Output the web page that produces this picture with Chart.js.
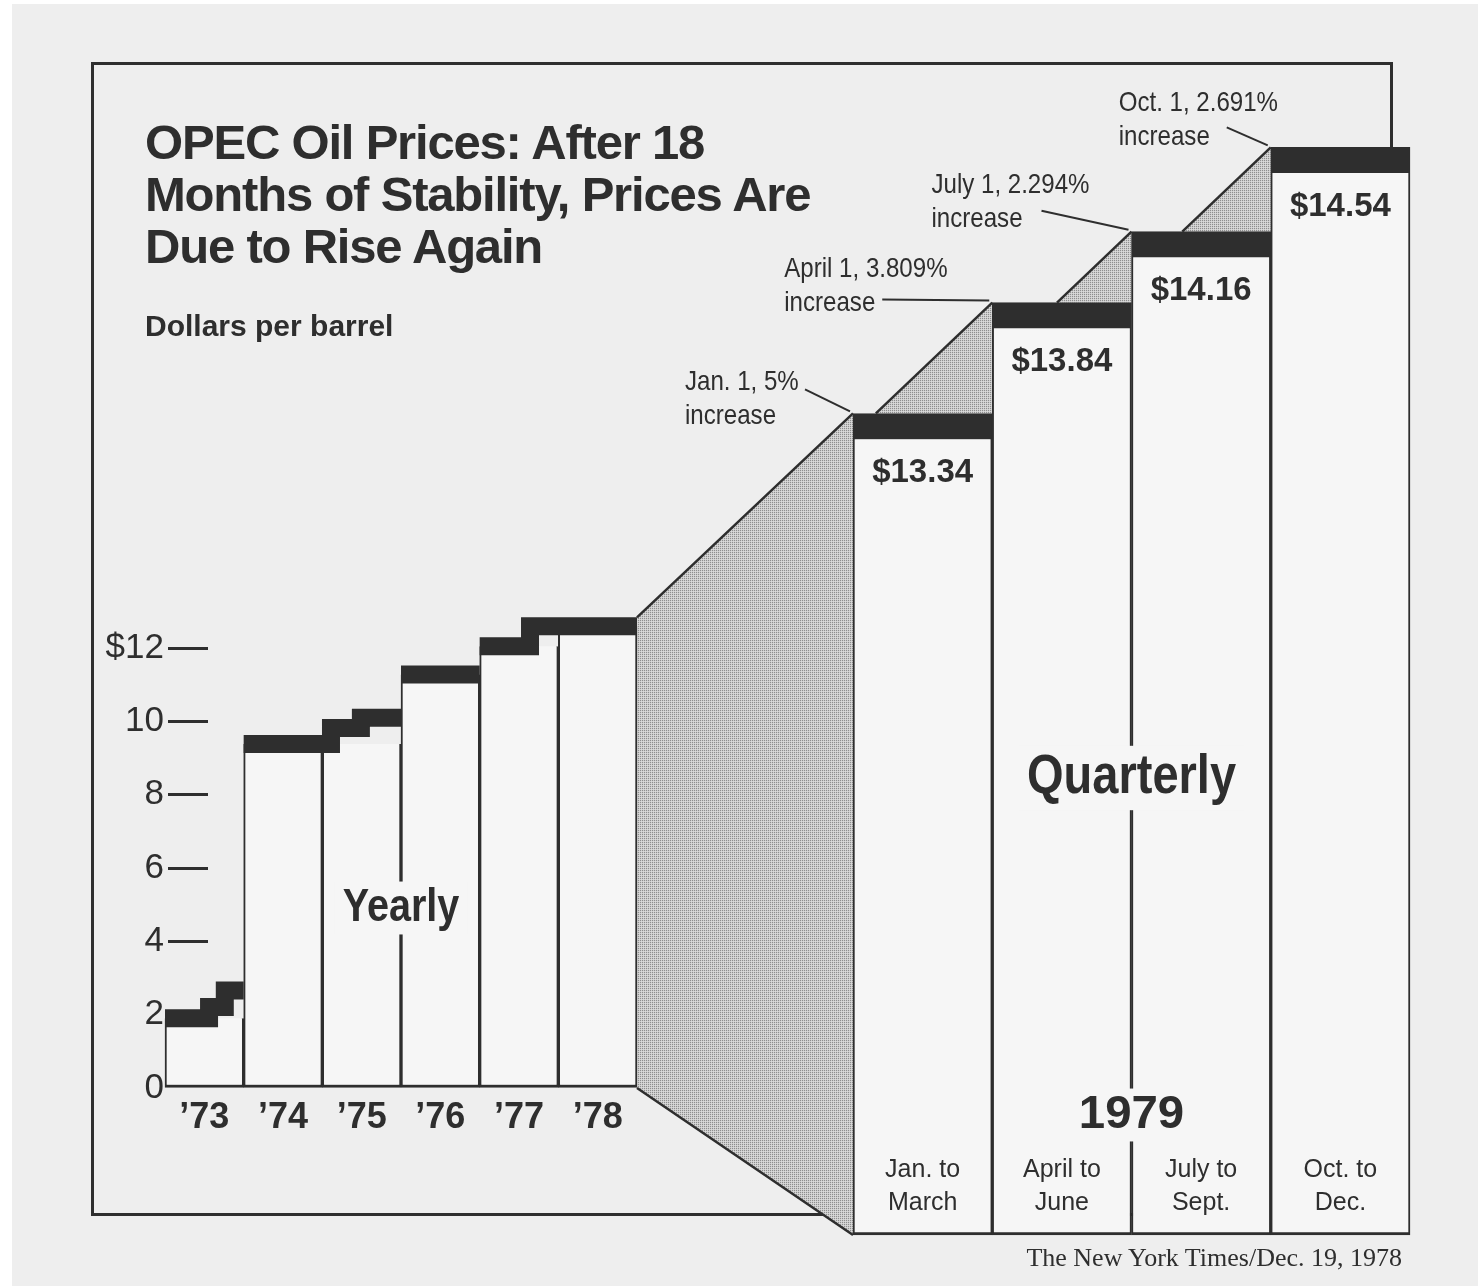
<!DOCTYPE html>
<html lang="en">
<head>
<meta charset="utf-8">
<title>OPEC Oil Prices</title>
<script src="https://cdn.jsdelivr.net/npm/chart.js@4.4.1/dist/chart.umd.min.js"></script>
<style>
  html, body { margin: 0; padding: 0; background: #ffffff; }
  body { width: 1478px; height: 1286px; position: relative; overflow: hidden; }
  #paper { position: absolute; left: 12px; top: 4px; right: 0; bottom: 0; background: #eeeeee; }
  #frame { position: absolute; left: 91px; top: 62px; width: 1296px; height: 1148px; border: 3px solid #2e2e2e; }
  #oil { position: absolute; left: 0; top: 0; z-index: 2; }
  .title { position: absolute; left: 145px; top: 116px; margin: 0; font: bold 49px/52px "Liberation Sans", Arial, sans-serif; letter-spacing: -1.2px; color: #2e2e2e; z-index: 3; }
  .unit { position: absolute; left: 145px; top: 311px; font: bold 30px/1 "Liberation Sans", Arial, sans-serif; color: #2e2e2e; z-index: 3; }
  .source { position: absolute; right: 76px; top: 1245px; font: 26px/1 "Liberation Serif", serif; color: #2e2e2e; z-index: 3; }
</style>
</head>
<body>
<div id="paper"></div>
<div id="frame"></div>
<h1 class="title">OPEC Oil Prices: After 18<br>Months of Stability, Prices Are<br>Due to Rise Again</h1>
<div class="unit">Dollars per barrel</div>
<canvas id="oil" width="1478" height="1286"></canvas>
<div class="source">The New York Times/Dec. 19, 1978</div>

<script>
// --- data ---
const yearLabels = ['’73', '’74', '’75', '’76', '’77', '’78'];
// price changes: time in years from start of '73, price in dollars
const changeTimes = [0, 0.56, 0.76, 1, 2.11, 2.49, 3, 4, 4.64];
const changePrices = [1.90, 2.21, 2.66, 9.38, 9.82, 10.10, 11.28, 12.05, 12.59];
const yTicks = [0, 2, 4, 6, 8, 10, 12];

const quarterLabels = [['Jan. to', 'March'], ['April to', 'June'], ['July to', 'Sept.'], ['Oct. to', 'Dec.']];
const quarterPrices = [13.34, 13.84, 14.16, 14.54];
const increaseNotes = ['Jan. 1, 5%', 'April 1, 3.809%', 'July 1, 2.294%', 'Oct. 1, 2.691%'];

// --- look ---
const INK = '#2e2e2e';
const COLUMN = '#f6f6f6';
const BAND = 18;       // yearly price band, px
const Q_BAND = 26;     // quarterly price band, px
const RAMP = 1.05;     // slope of the shaded ramps
const SANS = '"Liberation Sans", Arial, sans-serif';

// pixel layout of the two panels
const PLOT = { left: 208, right: 1410, top: 100, bottom: 1235 };
const yearPx = (637 - 165) / yearLabels.length;
const X_MIN = (PLOT.left - 165) / yearPx;
const X_MAX = X_MIN + (PLOT.right - PLOT.left) / yearPx;
const quarterPx = (PLOT.right - 853) / quarterLabels.length;
const X2_MIN = -(853 - PLOT.left) / quarterPx;
const X2_MAX = quarterLabels.length;
const dollarPx = (1088 - 648) / 12;
const Y_MIN = -(PLOT.bottom - 1088) / dollarPx;
const Y_MAX = Y_MIN + (PLOT.bottom - PLOT.top) / dollarPx;
const Y2_MIN = 9.634;
const Y2_MAX = 14.754;

// stepped band; a change at a whole year breaks the band (thin riser)
const bandPoints = [];
changeTimes.forEach((t, i) => {
    if (i > 0 && Number.isInteger(t)) {
        bandPoints.push({ x: t, y: changePrices[i - 1] });
        bandPoints.push({ x: t, y: null });
    }
    bandPoints.push({ x: t, y: changePrices[i] });
});
bandPoints.push({ x: yearLabels.length, y: changePrices[changePrices.length - 1] });

// white column under the band: lowest price seen in that year
const yearFloor = yearLabels.map((_, yr) => {
    const seen = changePrices.filter((p, k) => {
        const next = k === changeTimes.length - 1 ? Infinity : changeTimes[k + 1];
        return changeTimes[k] < yr + 1 && next > yr;
    });
    return Math.min(...seen);
});

function makeStipple(ctx) {
    const c = document.createElement('canvas');
    c.width = 2; c.height = 2;
    const p = c.getContext('2d');
    p.fillStyle = '#cdcdcd'; p.fillRect(0, 0, 2, 2);
    p.fillStyle = '#8e8e8e'; p.fillRect(0, 0, 1, 1);
    p.fillStyle = '#dadada'; p.fillRect(1, 1, 1, 1);
    return ctx.createPattern(c, 'repeat');
}

// canvas text, optionally squeezed sideways and with a column-coloured backing
function word(ctx, text, x, y, font, align, sx, backing) {
    ctx.save();
    ctx.font = font;
    ctx.textAlign = align || 'left';
    ctx.textBaseline = 'middle';
    ctx.translate(x, y);
    ctx.scale(sx || 1, 1);
    if (backing) {
        const w = ctx.measureText(text).width;
        const h = parseFloat(font.match(/(\d+)px/)[1]) * 1.15;
        ctx.fillStyle = COLUMN;
        ctx.fillRect(-w / 2 - 10, -h / 2, w + 20, h);
    }
    ctx.fillStyle = INK;
    ctx.fillText(text, 0, 0);
    ctx.restore();
}

// offsets of the increase notes from the corner they point at
const noteOffsets = [
    { tx: -168, ty: -31, lx: -48, ly: -24 },
    { tx: -208, ty: -33, lx: -110, ly: -3 },
    { tx: -200, ty: -46, lx: -90, ly: -21 },
    { tx: -152, ty: -44, lx: -44, ly: -20 }
];

const decor = {
    id: 'decor',
    beforeDatasetsDraw(chart) {
        const { ctx } = chart;
        const { x, y, x2, y2 } = chart.scales;
        const stipple = makeStipple(ctx);

        // big ramp from the yearly to the quarterly panel
        const ax = x.getPixelForValue(yearLabels.length);
        const ay = y.getPixelForValue(changePrices[changePrices.length - 1]) - BAND / 2;
        const bx = x2.getPixelForValue(0);
        const by = y2.getPixelForValue(quarterPrices[0]);
        const cy = y2.getPixelForValue(y2.min);
        const dy = y.getPixelForValue(0);
        ctx.save();
        ctx.fillStyle = stipple;
        ctx.beginPath();
        ctx.moveTo(ax, ay); ctx.lineTo(bx, by); ctx.lineTo(bx, cy); ctx.lineTo(ax, dy);
        ctx.closePath();
        ctx.fill();
        ctx.strokeStyle = INK;
        ctx.lineWidth = 2.5;
        ctx.beginPath();
        ctx.moveTo(ax, ay); ctx.lineTo(bx, by);
        ctx.moveTo(ax, dy); ctx.lineTo(bx, cy);
        ctx.stroke();

        // small ramps between quarters
        for (let i = 0; i < quarterPrices.length - 1; i++) {
            const px = x2.getPixelForValue(i + 1);
            const top = y2.getPixelForValue(quarterPrices[i + 1]);
            const base = y2.getPixelForValue(quarterPrices[i]);
            const lx = px - (base - top) * RAMP;
            ctx.fillStyle = stipple;
            ctx.beginPath();
            ctx.moveTo(lx, base); ctx.lineTo(px, top); ctx.lineTo(px, base);
            ctx.closePath();
            ctx.fill();
            ctx.beginPath();
            ctx.moveTo(lx, base); ctx.lineTo(px, top);
            ctx.stroke();
        }
        ctx.restore();
    },
    afterDatasetsDraw(chart) {
        const { ctx } = chart;
        const { x, x2, y2 } = chart.scales;

        // price labels inside quarterly columns
        chart.getDatasetMeta(2).data.forEach((bar, i) => {
            word(ctx, '$' + quarterPrices[i].toFixed(2), bar.x, bar.y + 59, 'bold 34px ' + SANS, 'center', 0.97);
        });

        // increase notes with leader lines
        ctx.save();
        ctx.strokeStyle = INK;
        ctx.lineWidth = 2;
        increaseNotes.forEach((note, i) => {
            const cx = x2.getPixelForValue(i);
            const cy = y2.getPixelForValue(quarterPrices[i]);
            const o = noteOffsets[i];
            word(ctx, note, cx + o.tx, cy + o.ty, '28px ' + SANS, 'left', 0.86);
            word(ctx, 'increase', cx + o.tx, cy + o.ty + 34, '28px ' + SANS, 'left', 0.86);
            ctx.beginPath();
            ctx.moveTo(cx + o.lx, cy + o.ly);
            ctx.lineTo(cx - 3, cy - 2);
            ctx.stroke();
        });
        ctx.restore();

        word(ctx, 'Yearly', x.getPixelForValue(yearLabels.length / 2), 908, 'bold 46px ' + SANS, 'center', 0.86, true);
        word(ctx, 'Quarterly', x2.getPixelForValue(quarterLabels.length / 2), 778, 'bold 56px ' + SANS, 'center', 0.84, true);
        word(ctx, '1979', x2.getPixelForValue(quarterLabels.length / 2), 1115, 'bold 46px ' + SANS, 'center', 1.03, true);
    }
};

new Chart(document.getElementById('oil'), {
    type: 'bar',
    data: {
        datasets: [
            {
                type: 'line',
                data: bandPoints,
                xAxisID: 'x',
                yAxisID: 'y',
                stepped: true,
                spanGaps: false,
                borderColor: INK,
                borderWidth: BAND,
                borderCapStyle: 'butt',
                borderJoinStyle: 'miter',
                pointRadius: 0,
                fill: false,
                clip: false,
                order: 0
            },
            {
                type: 'bar',
                data: yearFloor.map((v, i) => ({ x: i + 0.5, y: v })),
                xAxisID: 'x',
                yAxisID: 'y',
                backgroundColor: COLUMN,
                borderColor: INK,
                borderWidth: { top: 0, left: 2, right: 2, bottom: 3 },
                borderSkipped: false,
                barPercentage: 1,
                categoryPercentage: 1,
                grouped: false,
                clip: false,
                order: 1
            },
            {
                type: 'bar',
                data: quarterPrices.map((v, i) => ({ x: i + 0.5, y: v })),
                xAxisID: 'x2',
                yAxisID: 'y2',
                base: Y2_MIN,
                backgroundColor: COLUMN,
                borderColor: INK,
                borderWidth: { top: Q_BAND, left: 2, right: 2, bottom: 3 },
                borderSkipped: false,
                barPercentage: 1,
                categoryPercentage: 1,
                grouped: false,
                clip: false,
                order: 1
            }
        ]
    },
    options: {
        responsive: false,
        animation: false,
        events: [],
        layout: { padding: { left: PLOT.left - 118, right: 1478 - PLOT.right, top: PLOT.top, bottom: 1286 - PLOT.bottom } },
        plugins: { legend: { display: false }, tooltip: { enabled: false } },
        scales: {
            x: {
                type: 'linear',
                position: { y: 0 },
                offset: false,
                min: X_MIN,
                max: X_MAX,
                grid: { display: false, drawTicks: false, offset: false },
                border: { display: false },
                afterBuildTicks: (s) => { s.ticks = yearLabels.map((_, i) => ({ value: i + 0.5 })); },
                ticks: {
                    autoSkip: false,
                    maxRotation: 0,
                    padding: 8,
                    color: INK,
                    font: { family: SANS, size: 36, weight: 'bold' },
                    callback: (v, i) => yearLabels[i]
                }
            },
            y: {
                type: 'linear',
                position: 'left',
                min: Y_MIN,
                max: Y_MAX,
                afterFit: (s) => { s.width = 118; },
                afterBuildTicks: (s) => { s.ticks = yTicks.map(v => ({ value: v })); },
                border: { display: false },
                grid: {
                    drawOnChartArea: false,
                    drawTicks: true,
                    tickLength: 40,
                    tickWidth: 3,
                    tickColor: (c) => (c.tick && c.tick.value === 0 ? 'rgba(0,0,0,0)' : INK)
                },
                ticks: {
                    padding: 4,
                    color: INK,
                    font: { family: SANS, size: 35 },
                    callback: (v) => (v === yTicks[yTicks.length - 1] ? '$' + v : String(v))
                }
            },
            x2: {
                type: 'linear',
                position: { y2: 10 },
                offset: false,
                min: X2_MIN,
                max: X2_MAX,
                grid: { display: false, drawTicks: false, offset: false },
                border: { display: false },
                afterBuildTicks: (s) => { s.ticks = quarterLabels.map((_, i) => ({ value: i + 0.5 })); },
                ticks: {
                    z: 1,
                    autoSkip: false,
                    maxRotation: 0,
                    padding: 0,
                    color: INK,
                    font: { family: SANS, size: 25, lineHeight: 1.32 },
                    callback: (v, i) => quarterLabels[i]
                }
            },
            y2: {
                type: 'linear',
                display: false,
                min: Y2_MIN,
                max: Y2_MAX
            }
        }
    },
    plugins: [decor]
});
</script>
</body>
</html>
